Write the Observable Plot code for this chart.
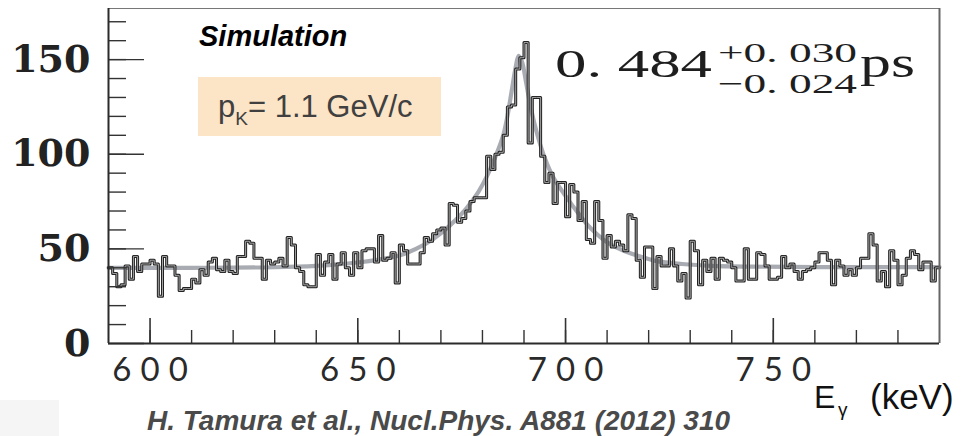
<!DOCTYPE html>
<html>
<head>
<meta charset="utf-8">
<script src="https://cdn.jsdelivr.net/npm/d3@7"></script>
<script src="https://cdn.jsdelivr.net/npm/@observablehq/plot@0.6"></script>
<style>
  html, body { margin: 0; padding: 0; background: #fff; }
  #chart svg { display: block; }
  g[aria-label="x-axis tick label"] text { letter-spacing: 9px; }
</style>
</head>
<body>
<div id="chart"></div>
<script>
// Gamma-ray spectrum: 1 keV bins from 590 keV to 790 keV (simulated counts)
const binStart = 590;
const binWidth = 1;
const counts = [
  40, 37, 30, 31, 41, 34, 46, 38, 42, 42,
  44, 42, 25, 46, 41, 41, 36, 28, 29, 29,
  34, 32, 39, 36, 43, 45, 39, 38, 44, 38,
  37, 46, 46, 54, 53, 45, 45, 34, 44, 42,
  43, 45, 41, 56, 52, 40, 38, 31, 30, 30,
  47, 36, 43, 47, 34, 42, 48, 40, 36, 48,
  40, 49, 50, 50, 43, 57, 44, 45, 48, 32,
  52, 49, 42, 42, 42, 48, 56, 54, 58, 60,
  61, 52, 74, 73, 64, 66, 70, 75, 77, 77,
  77, 99, 92, 100, 101, 110, 125, 126, 145, 151,
  159, 106, 130, 130, 99, 85, 90, 74, 85, 85,
  67, 84, 80, 65, 75, 55, 53, 75, 65, 45,
  57, 51, 54, 52, 49, 68, 66, 44, 35, 51,
  51, 29, 46, 41, 41, 50, 41, 33, 37, 24,
  54, 49, 31, 44, 38, 45, 34, 45, 44, 43,
  40, 33, 33, 50, 34, 34, 48, 47, 41, 34,
  34, 35, 46, 40, 42, 38, 34, 38, 39, 40,
  43, 48, 48, 44, 31, 44, 41, 36, 39, 36,
  40, 45, 45, 58, 52, 33, 38, 30, 49, 44,
  31, 36, 45, 49, 47, 39, 43, 43, 33, 40
];

// Fitted Doppler-shift line shape (sampled)
const fitEnergy = [590, 610, 630, 640, 645, 650, 655, 660, 664, 668, 672, 676, 679, 681, 683, 685, 686, 687, 688, 688.7, 689.5, 690.5, 691.5, 693, 695, 697, 700, 703, 706, 710, 714, 718, 722, 728, 735, 745, 760, 790];
const fitCounts = [40, 40, 40.3, 41, 41.8, 42.8, 44.3, 46.5, 50, 55, 62, 71, 80, 88, 98, 110, 120, 133, 146, 152, 149, 138, 126, 112, 98, 88, 78, 69, 61, 53.5, 49, 46, 43.5, 42, 41, 40.6, 40.4, 40.4];

// Axes
const xDomain = [590, 790];
const yDomain = [0, 177];
const xMajorTicks = [600, 650, 700, 750];
const xMinorTicks = [600, 610, 620, 630, 640, 650, 660, 670, 680, 690, 700, 710, 720, 730, 740, 750, 760, 770, 780];
const yMajorTicks = [0, 50, 100, 150];
const yMinorTicks = [10, 20, 30, 40, 50, 60, 70, 80, 90, 100, 110, 120, 130, 140, 150, 160, 170];

const W = 961, H = 436;
const margin = {top: 8, right: 22, bottom: 93, left: 108};
const frameW = W - margin.left - margin.right;
const frameH = H - margin.top - margin.bottom;

// Step outline: one point per bin edge, last edge repeats the final count
const histPoints = counts.map((c, i) => ({energy: binStart + i * binWidth, count: c}));
histPoints.push({energy: binStart + counts.length * binWidth, count: counts[counts.length - 1]});
const fitPoints = fitEnergy.map((e, i) => ({energy: e, count: fitCounts[i]}));

const tickColor = "#333";

const chart = Plot.plot({
  width: W,
  height: H,
  marginTop: margin.top,
  marginRight: margin.right,
  marginBottom: margin.bottom,
  marginLeft: margin.left,
  x: {domain: xDomain},
  y: {domain: yDomain},
  style: {background: "#fff", overflow: "visible"},
  marks: [
    Plot.line(fitPoints, {x: "energy", y: "count", curve: "catmull-rom", stroke: "#9ea2a9", strokeWidth: 4.2, strokeOpacity: 0.9}),
    Plot.line(histPoints, {x: "energy", y: "count", curve: "step-after", stroke: "#222", strokeWidth: 3}),
    Plot.line(histPoints, {x: "energy", y: "count", curve: "step-after", stroke: "#c4c4c4", strokeWidth: 0.8}),
    Plot.tickY(yMinorTicks, {y: d => d, insetRight: frameW - 18, stroke: tickColor, strokeWidth: 1.4}),
    Plot.tickY(yMajorTicks, {y: d => d, insetRight: frameW - 36, stroke: tickColor, strokeWidth: 1.4}),
    Plot.tickX(xMinorTicks, {x: d => d, insetTop: frameH - 13, stroke: tickColor, strokeWidth: 1.4}),
    Plot.tickX(xMajorTicks, {x: d => d, insetTop: frameH - 25, stroke: tickColor, strokeWidth: 1.6}),
    Plot.ruleY([yDomain[1]], {stroke: "#777", strokeWidth: 1.2}),
    Plot.ruleX([xDomain[1]], {stroke: "#666", strokeWidth: 2}),
    Plot.ruleX([xDomain[0]], {stroke: "#2b2b2b", strokeWidth: 2}),
    Plot.ruleY([yDomain[0]], {stroke: "#2b2b2b", strokeWidth: 2}),
    Plot.axisY(yMajorTicks, {tickSize: 0, tickPadding: 18, fontSize: 38, fontFamily: "DejaVu Serif", fontWeight: "bold", fill: "#222", label: null}),
    Plot.axisX(xMajorTicks, {tickSize: 0, tickPadding: 14, fontSize: 33, fontFamily: "Lato", fontWeight: 400, fill: "#2a2a2a", label: null, dx: 4.5})
  ]
});

document.getElementById("chart").appendChild(chart);

// Annotations
const svg = d3.select(chart);
const sans = "'Liberation Sans', Arial, sans-serif";
const serif = "'Liberation Serif', 'Times New Roman', serif";

function label(x, y, txt) {
  return svg.append("text")
    .attr("x", x).attr("y", y)
    .attr("text-anchor", "start")
    .text(txt);
}

label(199, 45.5, "Simulation")
  .attr("font-family", sans).attr("font-weight", "bold").attr("font-style", "italic")
  .attr("font-size", 29).attr("fill", "#000");

svg.append("rect")
  .attr("x", 198).attr("y", 77).attr("width", 243).attr("height", 59)
  .attr("fill", "#fce4c6");

const pk = svg.append("text")
  .attr("x", 218).attr("y", 117).attr("text-anchor", "start")
  .attr("font-family", sans).attr("font-size", 31).attr("fill", "#404040");
pk.append("tspan").text("p");
pk.append("tspan").attr("font-size", 19).attr("dy", 8).text("K");
pk.append("tspan").attr("dy", -8).text("= 1.1 GeV/c");

// Fitted lifetime
const lifeColor = "#1e1e1e";
label(555, 77, "0. 484")
  .attr("font-family", serif).attr("font-size", 40).attr("fill", lifeColor)
  .attr("textLength", 157).attr("lengthAdjust", "spacingAndGlyphs");
label(718, 62, "+0. 030")
  .attr("font-family", serif).attr("font-size", 28).attr("fill", lifeColor)
  .attr("textLength", 139).attr("lengthAdjust", "spacingAndGlyphs");
label(718, 93, "\u22120. 024")
  .attr("font-family", serif).attr("font-size", 28).attr("fill", lifeColor)
  .attr("textLength", 139).attr("lengthAdjust", "spacingAndGlyphs");
label(860, 77, "ps")
  .attr("font-family", serif).attr("font-size", 44).attr("fill", lifeColor)
  .attr("textLength", 55).attr("lengthAdjust", "spacingAndGlyphs");

// Axis title
label(814, 408, "E")
  .attr("font-family", sans).attr("font-size", 32).attr("fill", "#111");
label(838, 416, "\u03b3")
  .attr("font-family", sans).attr("font-size", 19).attr("fill", "#111");
label(870, 409, "(keV)")
  .attr("font-family", sans).attr("font-size", 35).attr("fill", "#111");

// Reference
svg.append("rect")
  .attr("x", 0).attr("y", 400).attr("width", 59).attr("height", 36)
  .attr("fill", "#f5f5f5");
label(147, 430, "H. Tamura et al., Nucl.Phys. A881 (2012) 310")
  .attr("font-family", sans).attr("font-weight", "bold").attr("font-style", "italic")
  .attr("font-size", 28).attr("fill", "#4a4a4a");
</script>
</body>
</html>
